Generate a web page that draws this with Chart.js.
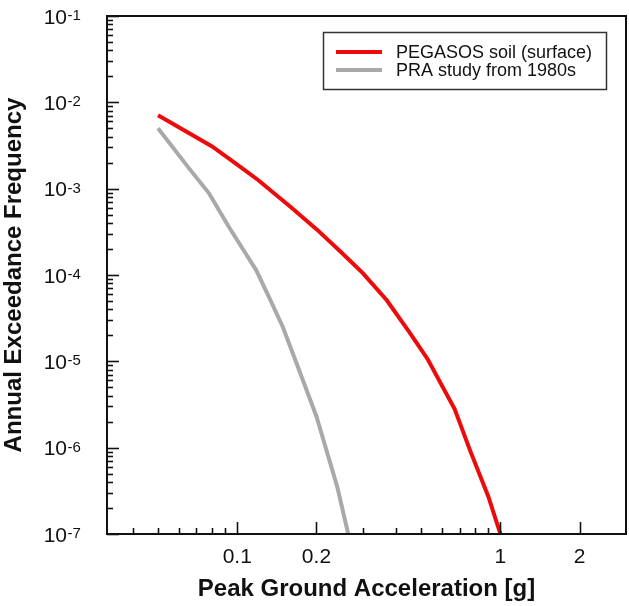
<!DOCTYPE html>
<html>
<head>
<meta charset="utf-8">
<script src="https://cdn.jsdelivr.net/npm/chart.js@4.4.1/dist/chart.umd.min.js"></script>
<style>
  html, body { margin: 0; padding: 0; background: #fff; }
  #wrap { width: 629px; height: 606px; }
</style>
</head>
<body>
<div id="wrap"><canvas id="hazardChart"></canvas></div>
<script>
// hazard curves (PGA in g, annual exceedance frequency)
const pgaSoil = [0.05, 0.08, 0.1, 0.12, 0.16, 0.2, 0.25, 0.3, 0.37, 0.45, 0.53, 0.67, 0.77, 0.9, 1.0];
const afeSoil = [7.1e-3, 3.1e-3, 1.9e-3, 1.26e-3, 6.1e-4, 3.4e-4, 1.8e-4, 1.05e-4, 5.1e-5, 2.2e-5, 1.05e-5, 2.8e-6, 9.0e-7, 2.7e-7, 1.0e-7];
const pgaPra = [0.05, 0.0655, 0.078, 0.093, 0.105, 0.118, 0.133, 0.149, 0.168, 0.2, 0.24, 0.264];
const afePra = [5.0e-3, 1.73e-3, 8.9e-4, 3.6e-4, 2.0e-4, 1.14e-4, 5.3e-5, 2.5e-5, 9.5e-6, 2.3e-6, 3.5e-7, 1.0e-7];

const seriesNames = ['PEGASOS soil (surface)', 'PRA study from 1980s'];
const seriesColors = ['#ee0a0a', '#a9a9a9'];

const xLabelTicks = [0.1, 0.2, 1, 2];
const xMinorTicks = [0.04, 0.05, 0.06, 0.07, 0.08, 0.09, 0.3, 0.4, 0.5, 0.6, 0.7, 0.8, 0.9];
const yExponents = [-7, -6, -5, -4, -3, -2, -1];

const FONT = "'Liberation Sans', Arial, sans-serif";

function toPoints(xs, ys) {
    return xs.map((x, i) => ({ x: x, y: ys[i] }));
}

// frame, inward ticks, y labels with superscripts, legend box
const axesPlugin = {
    id: 'axesPlugin',
    afterDraw(chart) {
        const c = chart.ctx;
        const area = chart.chartArea;
        const xs = chart.scales.x;
        const ys = chart.scales.y;
        c.save();
        c.strokeStyle = '#111';
        c.lineWidth = 1.6;

        xs.ticks.forEach(t => {
            const px = Math.round(xs.getPixelForValue(t.value)) + 0.5;
            const len = xLabelTicks.includes(t.value) ? 12 : 6;
            c.beginPath();
            c.moveTo(px, area.bottom);
            c.lineTo(px, area.bottom - len);
            c.stroke();
        });
        ys.ticks.forEach(t => {
            const py = Math.round(ys.getPixelForValue(t.value)) + 0.5;
            const mant = t.value / Math.pow(10, Math.floor(Math.log10(t.value) + 1e-9));
            const len = Math.abs(mant - 1) < 1e-6 ? 12 : 6;
            c.beginPath();
            c.moveTo(area.left, py);
            c.lineTo(area.left + len, py);
            c.stroke();
        });

        c.lineWidth = 2;
        c.strokeRect(area.left, area.top, area.right - area.left, area.bottom - area.top);

        // y tick labels: 10 with superscript exponent
        c.fillStyle = '#111';
        yExponents.forEach(e => {
            const py = ys.getPixelForValue(Math.pow(10, e));
            c.font = '21px ' + FONT;
            c.textAlign = 'right';
            c.textBaseline = 'alphabetic';
            c.fillText('10', 67, py + 7.5);
            c.font = '15px ' + FONT;
            c.textAlign = 'left';
            c.fillText(String(e), 67.5, py + 4);
        });

        // legend
        const bx = 323, by = 32, bw = 283, bh = 57;
        c.fillStyle = '#fff';
        c.fillRect(bx, by, bw, bh);
        c.strokeStyle = '#333';
        c.lineWidth = 1.5;
        c.strokeRect(bx + 0.5, by + 0.5, bw, bh);
        chart.data.datasets.forEach((ds, i) => {
            const ly = 52 + i * 18;
            c.strokeStyle = ds.borderColor;
            c.lineWidth = 4;
            c.beginPath();
            c.moveTo(336, ly);
            c.lineTo(382, ly);
            c.stroke();
            c.fillStyle = '#111';
            c.font = '18px ' + FONT;
            c.textAlign = 'left';
            c.textBaseline = 'middle';
            c.fillText(ds.label, 396, ly + 1);
        });
        c.restore();
    }
};

const hazardChart = new Chart(document.getElementById('hazardChart'), {
    type: 'line',
    data: {
        datasets: [
            {
                label: seriesNames[0],
                data: toPoints(pgaSoil, afeSoil),
                borderColor: seriesColors[0],
                backgroundColor: seriesColors[0],
                borderWidth: 4,
                pointRadius: 0,
                tension: 0
            },
            {
                label: seriesNames[1],
                data: toPoints(pgaPra, afePra),
                borderColor: seriesColors[1],
                backgroundColor: seriesColors[1],
                borderWidth: 4,
                pointRadius: 0,
                tension: 0
            }
        ]
    },
    options: {
        responsive: true,
        maintainAspectRatio: false,
        animation: false,
        layout: { padding: { top: 16, right: 3, left: 0, bottom: 0 } },
        plugins: {
            legend: { display: false },
            tooltip: { enabled: false }
        },
        scales: {
            x: {
                type: 'logarithmic',
                min: 0.032,
                max: 3,
                grid: { display: false, drawTicks: false },
                border: { display: false },
                afterBuildTicks: scale => {
                    scale.ticks = [...xMinorTicks, ...xLabelTicks]
                        .sort((a, b) => a - b)
                        .map(v => ({ value: v }));
                },
                afterFit: scale => { scale.height = 72; },
                ticks: {
                    autoSkip: false,
                    maxRotation: 0,
                    padding: 11,
                    color: '#111',
                    font: { family: FONT, size: 21 },
                    callback: v => xLabelTicks.includes(v) ? String(v) : ''
                },
                title: {
                    display: true,
                    text: 'Peak Ground Acceleration [g]',
                    color: '#111',
                    font: { family: FONT, size: 24, weight: 'bold' },
                    padding: { top: 0, bottom: 2 }
                }
            },
            y: {
                type: 'logarithmic',
                min: 1e-7,
                max: 1e-1,
                grid: { display: false, drawTicks: false },
                border: { display: false },
                afterBuildTicks: scale => {
                    const ticks = [];
                    yExponents.forEach(e => {
                        for (let m = 1; m <= 9; m++) {
                            if (e === -1 && m > 1) break;
                            ticks.push({ value: m * Math.pow(10, e) });
                        }
                    });
                    scale.ticks = ticks;
                },
                afterFit: scale => { scale.width = 107; },
                ticks: { display: false },
                title: {
                    display: true,
                    text: 'Annual Exceedance Frequency',
                    color: '#111',
                    font: { family: FONT, size: 24, weight: 'bold' },
                    padding: { top: 0, bottom: 0 }
                }
            }
        }
    },
    plugins: [axesPlugin]
});
</script>
</body>
</html>
